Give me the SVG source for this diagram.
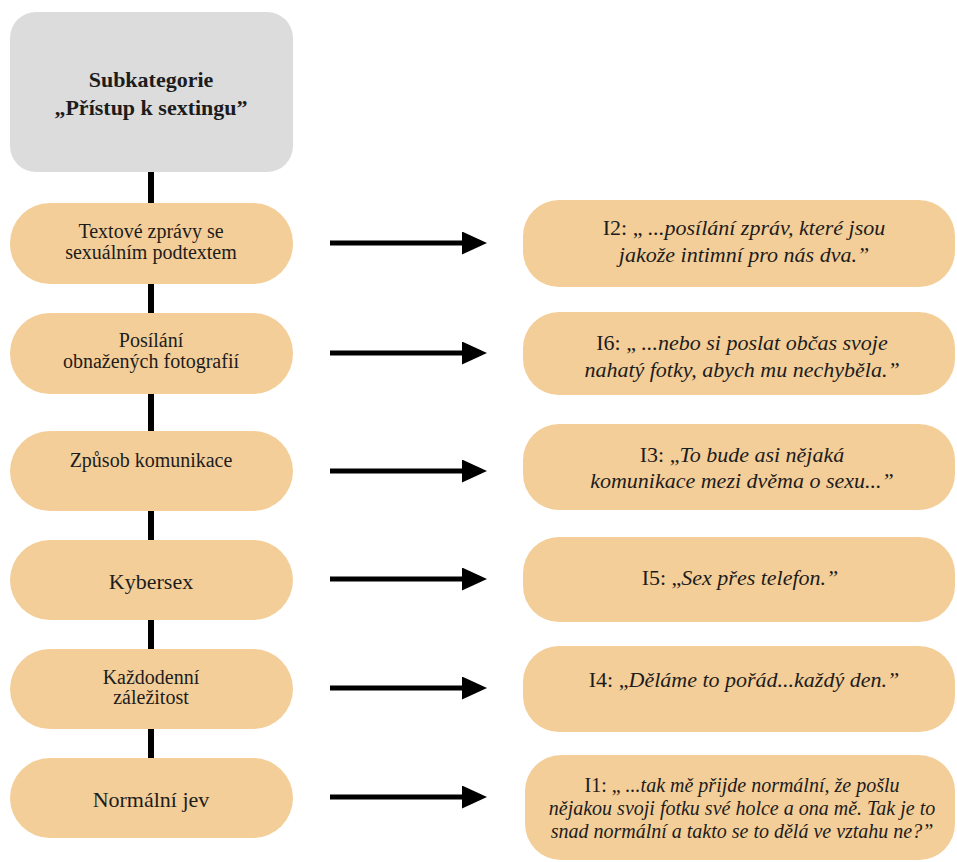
<svg xmlns="http://www.w3.org/2000/svg" width="957" height="862" viewBox="0 0 957 862">
<defs>
<style>
.pill{fill:#f4ce98;}
.top{fill:#dcdcdc;}
text{fill:#1c1c1c;text-anchor:middle;}
.l{font-size:20px;}
.lb{font-size:22px;}
.t{font-size:22px;font-weight:bold;}
.q{font-size:22px;}
.qs{font-size:20px;}
.i{font-style:italic;}
.vc{stroke:#000;stroke-width:6;fill:none;}
.ar{stroke:#000;stroke-width:5;fill:none;marker-end:url(#ah);}
</style>
<marker id="ah" viewBox="0 0 25 23" markerWidth="25" markerHeight="23" markerUnits="userSpaceOnUse" refX="0" refY="11.5" orient="auto">
<path d="M0,0 L25,11.5 L0,23 Z" fill="#000"/>
</marker>
</defs>
<rect width="957" height="862" fill="#fff"/>
<g id="connectors">
<line class="vc" x1="151" y1="170" x2="151" y2="205"/>
<line class="vc" x1="151" y1="281" x2="151" y2="315"/>
<line class="vc" x1="151" y1="391" x2="151" y2="433"/>
<line class="vc" x1="151" y1="508" x2="151" y2="542"/>
<line class="vc" x1="151" y1="617" x2="151" y2="651"/>
<line class="vc" x1="151" y1="726" x2="151" y2="760"/>
<line class="ar" x1="330" y1="243" x2="462" y2="243"/>
<line class="ar" x1="330" y1="353" x2="462" y2="353"/>
<line class="ar" x1="330" y1="471" x2="462" y2="471"/>
<line class="ar" x1="330" y1="579" x2="462" y2="579"/>
<line class="ar" x1="330" y1="688" x2="462" y2="688"/>
<line class="ar" x1="330" y1="797" x2="462" y2="797"/>
</g>
<g font-family="'Liberation Serif', 'DejaVu Serif', 'Times New Roman', serif">
<g id="top">
<rect class="top" x="10" y="12" width="283" height="160" rx="26"/>
<text class="t" x="151" y="87">Subkategorie</text>
<text class="t" x="151" y="115">„Přístup k sextingu”</text>
</g>
<g id="n1">
<rect class="pill" x="10" y="203" width="283" height="81" rx="40"/>
<text class="l" x="151" y="238">Textové zprávy se</text>
<text class="l" x="151" y="259">sexuálním podtextem</text>
</g>
<g id="n2">
<rect class="pill" x="10" y="313" width="283" height="81" rx="40"/>
<text class="l" x="151" y="347">Posílání</text>
<text class="l" x="151" y="368">obnažených fotografií</text>
</g>
<g id="n3">
<rect class="pill" x="10" y="431" width="283" height="80" rx="40"/>
<text class="l" x="151" y="467">Způsob komunikace</text>
</g>
<g id="n4">
<rect class="pill" x="10" y="540" width="283" height="80" rx="40"/>
<text class="lb" x="151" y="589">Kybersex</text>
</g>
<g id="n5">
<rect class="pill" x="10" y="649" width="283" height="80" rx="40"/>
<text class="l" x="151" y="684">Každodenní</text>
<text class="l" x="151" y="704">záležitost</text>
</g>
<g id="n6">
<rect class="pill" x="10" y="758" width="283" height="80" rx="40"/>
<text class="lb" x="151" y="807">Normální jev</text>
</g>
<g id="q1">
<rect class="pill" x="523" y="200" width="432" height="87" rx="36"/>
<text class="q" x="744" y="235">I2: „ <tspan class="i">...posílání zpráv, které jsou</tspan></text>
<text class="q i" x="744" y="262">jakože intimní pro nás dva.”</text>
</g>
<g id="q2">
<rect class="pill" x="523" y="312" width="432" height="83" rx="36"/>
<text class="q" x="742" y="350">I6: „ <tspan class="i">...nebo si poslat občas svoje</tspan></text>
<text class="q i" x="742" y="377">nahatý fotky, abych mu nechyběla.”</text>
</g>
<g id="q3">
<rect class="pill" x="523" y="424" width="432" height="86" rx="36"/>
<text class="q" x="742" y="462">I3: „<tspan class="i">To bude asi nějaká</tspan></text>
<text class="q i" x="742" y="488">komunikace mezi dvěma o sexu...”</text>
</g>
<g id="q4">
<rect class="pill" x="523" y="537" width="432" height="85" rx="36"/>
<text class="q" x="740" y="585">I5: „<tspan class="i">Sex přes telefon.”</tspan></text>
</g>
<g id="q5">
<rect class="pill" x="523" y="646" width="432" height="86" rx="36"/>
<text class="q" x="744" y="687">I4: „<tspan class="i">Děláme to pořád...každý den.”</tspan></text>
</g>
<g id="q6">
<rect class="pill" x="525" y="755" width="430" height="105" rx="36"/>
<text class="qs" x="742" y="792">I1: „ <tspan class="i">...tak mě přijde normální, že pošlu</tspan></text>
<text class="qs i" x="742" y="815">nějakou svoji fotku své holce a ona mě. Tak je to</text>
<text class="qs i" x="742" y="838">snad normální a takto se to dělá ve vztahu ne?”</text>
</g>
</g>
</svg>
